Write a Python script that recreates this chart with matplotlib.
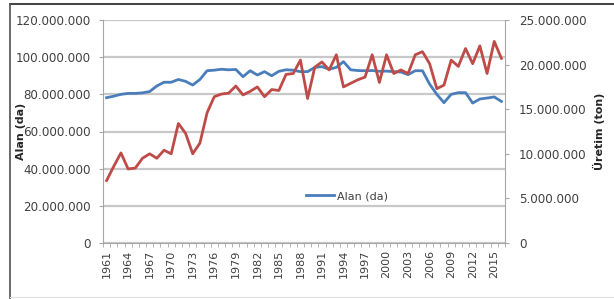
import matplotlib
matplotlib.use("Agg")
import matplotlib.pyplot as plt
from matplotlib.lines import Line2D
from matplotlib.ticker import FuncFormatter, MultipleLocator, FixedLocator

years = list(range(1961, 2017))
alan = [78.2, 79.0, 80.0, 80.5, 80.5, 80.8, 81.5, 84.5, 86.5, 86.5,
        88.0, 87.0, 85.0, 88.0, 92.7, 93.0, 93.5, 93.2, 93.4, 89.5,
        92.7, 90.4, 92.2, 90.0, 92.4, 93.2, 93.0, 92.2, 92.2, 94.5,
        94.9, 93.5, 94.5, 97.6, 93.2, 92.8, 92.7, 92.8, 92.4, 92.5,
        92.2, 92.0, 90.6, 92.7, 92.7, 85.5, 80.0, 75.5, 80.0, 80.9,
        80.9, 75.3, 77.5, 78.0, 78.6, 76.2]
uretim = [7.0, 8.6, 10.1, 8.3, 8.4, 9.5, 10.0, 9.5, 10.4, 10.0,
          13.4, 12.3, 10.0, 11.2, 14.6, 16.4, 16.7, 16.8, 17.6, 16.6,
          17.0, 17.5, 16.4, 17.2, 17.1, 18.9, 19.0, 20.5, 16.2, 19.7,
          20.3, 19.4, 21.1, 17.5, 17.9, 18.3, 18.6, 21.1, 18.0, 21.1,
          19.0, 19.4, 19.0, 21.1, 21.45, 20.1, 17.3, 17.7, 20.5, 19.8,
          21.8, 20.1, 22.1, 19.0, 22.6, 20.7]
alan_da = [v * 1e6 for v in alan]
uretim_ton = [v * 1e6 for v in uretim]
xtick_years = list(range(1961, 2017, 3))

def dotfmt(v, pos=None):
    return f"{int(round(v)):,}".replace(",", ".")

blue = "#4A7EBB"
red = "#BE4B48"
grid_c = "#C8C8C8"
axis_c = "#A6A6A6"
txt_c = "#404040"

fig = plt.figure(figsize=(6.14, 2.99), dpi=100)
ax = fig.add_axes([103/614, 1-243/299, (505-103)/614, (243-20)/299])
ax2 = ax.twinx()

ax.set_xlim(1960.5, 2016.5)
ax.set_ylim(0, 120e6)
ax2.set_ylim(0, 25e6)

ax.yaxis.set_major_locator(MultipleLocator(20e6))
ax2.yaxis.set_major_locator(MultipleLocator(5e6))
ax.yaxis.set_major_formatter(FuncFormatter(dotfmt))
ax2.yaxis.set_major_formatter(FuncFormatter(dotfmt))

ax.set_axisbelow(True)
ax.grid(axis="y", color=grid_c, lw=1.6)
ax.grid(axis="x", visible=False)

ax.xaxis.set_major_locator(FixedLocator(xtick_years))
ax.set_xticks([y - 0.5 for y in range(1961, 2018)], minor=True)
ax.tick_params(axis="x", which="minor", length=3, color=axis_c, direction="out")
ax.tick_params(axis="x", which="major", length=0, labelsize=8,
               labelrotation=90, labelcolor=txt_c, pad=5)
ax.tick_params(axis="y", length=3, color=axis_c, labelsize=8.6, labelcolor=txt_c, pad=6)
ax2.tick_params(axis="y", length=3, color=axis_c, labelsize=8.6, labelcolor=txt_c, pad=7)

for a in (ax, ax2):
    for s in a.spines.values():
        s.set_visible(False)
ax.spines["left"].set_visible(True)
ax.spines["left"].set_color(axis_c)
ax.spines["bottom"].set_visible(True)
ax.spines["bottom"].set_color(axis_c)
ax2.spines["right"].set_visible(True)
ax2.spines["right"].set_color(axis_c)

l1, = ax.plot(years, alan_da, color=blue, lw=2.0, label="Alan (da)", zorder=3)
ax2.plot(years, uretim_ton, color=red, lw=2.0, zorder=3)

leg = ax.legend(handles=[l1], loc="center left", bbox_to_anchor=(0.49, 0.21),
                frameon=False, fontsize=8, handlelength=2.6, handletextpad=0.2,
                borderpad=0, labelcolor=txt_c)

fig.text(21/614, 1-131/299, "Alan (da)", rotation=90, ha="center", va="center",
         fontsize=8, fontweight="bold", color="#262626")
fig.text(599/614, 1-131/299, "Üretim (ton)", rotation=90, ha="center", va="center",
         fontsize=8, fontweight="bold", color="#262626")

# outer frame
fig.add_artist(Line2D([10/614, 1.0], [1-4/299, 1-4/299], color="#202020", lw=1.2,
                      transform=fig.transFigure))
fig.add_artist(Line2D([10/614, 10/614], [1-4/299, 0], color="#505050", lw=1.2,
                      transform=fig.transFigure))
fig.add_artist(Line2D([10/614, 1.0], [1-297/299, 1-297/299], color="#E0E0E0", lw=0.8,
                      transform=fig.transFigure))

fig.savefig("out.png", dpi=100)
